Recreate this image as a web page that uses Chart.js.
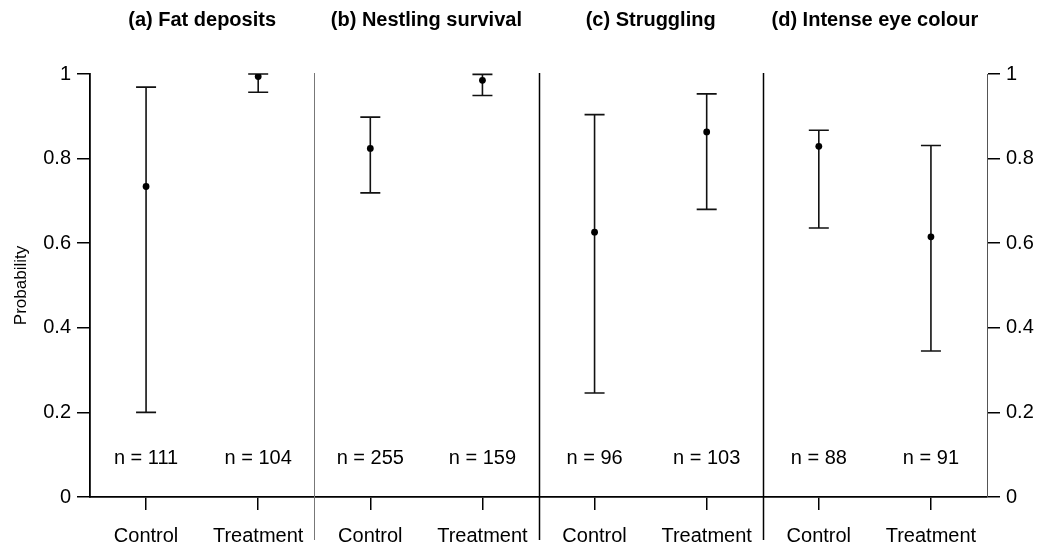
<!DOCTYPE html>
<html>
<head>
<meta charset="utf-8">
<script src="https://cdn.jsdelivr.net/npm/chart.js@4/dist/chart.umd.min.js"></script>
<style>
  html, body { margin: 0; padding: 0; background: #fff; }
  #wrap { width: 1052px; height: 549px; }
</style>
</head>
<body>
<div id="wrap"><canvas id="chart" width="1052" height="549"></canvas></div>
<script>
// four panels, two groups each
const panelTitles = ["(a) Fat deposits", "(b) Nestling survival", "(c) Struggling", "(d) Intense eye colour"];
const groups = ["Control", "Treatment", "Control", "Treatment", "Control", "Treatment", "Control", "Treatment"];
const estimate = [0.734, 0.994, 0.824, 0.985, 0.626, 0.863, 0.829, 0.615];
const lower = [0.200, 0.957, 0.719, 0.949, 0.246, 0.680, 0.636, 0.345];
const upper = [0.969, 1.0, 0.898, 0.999, 0.904, 0.953, 0.867, 0.831];
const sampleSizes = [111, 104, 255, 159, 96, 103, 88, 91];

const FONT = "'Liberation Sans', Arial, Helvetica, sans-serif";

const errorBars = {
    id: "errorBars",
    beforeDatasetsDraw(chart) {
        const { ctx, scales: { x, y } } = chart;
        ctx.save();
        ctx.strokeStyle = "#111";
        ctx.lineWidth = 1.6;
        lower.forEach((lo, i) => {
            const px = x.getPixelForValue(i);
            const yl = y.getPixelForValue(lo);
            const yh = y.getPixelForValue(upper[i]);
            ctx.beginPath();
            ctx.moveTo(px, yl);
            ctx.lineTo(px, yh);
            ctx.moveTo(px - 10, yl);
            ctx.lineTo(px + 10, yl);
            ctx.moveTo(px - 10, yh);
            ctx.lineTo(px + 10, yh);
            ctx.stroke();
        });
        ctx.restore();
    },
    afterDraw(chart) {
        const { ctx, chartArea, scales: { x } } = chart;
        const split = (p) => (x.getPixelForValue(p * 2 - 1) + x.getPixelForValue(p * 2)) / 2;
        ctx.save();

        // panel separators
        for (let p = 1; p < panelTitles.length; p++) {
            const sx = Math.round(split(p)) + 0.5;
            ctx.strokeStyle = p === 1 ? "#777" : "#000";
            ctx.lineWidth = p === 1 ? 1 : 1.5;
            ctx.beginPath();
            ctx.moveTo(sx, chartArea.top - 1);
            ctx.lineTo(sx, 540);
            ctx.stroke();
        }

        // panel titles
        ctx.fillStyle = "#000";
        ctx.textAlign = "center";
        ctx.textBaseline = "middle";
        ctx.font = "bold 20px " + FONT;
        panelTitles.forEach((t, p) => {
            const left = p === 0 ? chartArea.left : split(p);
            const right = p === panelTitles.length - 1 ? chartArea.right : split(p + 1);
            ctx.fillText(t, (left + right) / 2, 20);
        });

        // sample sizes
        ctx.font = "20px " + FONT;
        sampleSizes.forEach((n, i) => {
            ctx.fillText("n = " + n, x.getPixelForValue(i), chartArea.bottom - 39);
        });
        ctx.restore();
    }
};

const tickFont = { family: FONT, size: 20 };

const yAxis = (pos) => ({
    type: "linear",
    position: pos,
    min: 0,
    max: 1,
    ticks: {
        stepSize: 0.2,
        color: "#000",
        font: tickFont,
        padding: 6,
        callback: (v) => String(Math.round(v * 10) / 10)
    },
    grid: { drawOnChartArea: false, drawTicks: true, tickLength: 13, color: "#000", lineWidth: 1.5 },
    border: { display: true, color: pos === "left" ? "#000" : "#555", width: pos === "left" ? 1.8 : 1 }
});

new Chart(document.getElementById("chart"), {
    type: "line",
    data: {
        labels: groups,
        datasets: [{
            data: estimate,
            showLine: false,
            pointRadius: 3.4,
            pointBackgroundColor: "#000",
            pointBorderColor: "#000",
            pointBorderWidth: 0,
            yAxisID: "y"
        }]
    },
    options: {
        responsive: false,
        animation: false,
        layout: { padding: { top: 74, left: 0, right: 0, bottom: 0 } },
        plugins: { legend: { display: false }, tooltip: { enabled: false } },
        scales: {
            x: {
                type: "category",
                offset: true,
                grid: { drawOnChartArea: false, drawTicks: true, tickLength: 13, color: "#000", lineWidth: 1.5 },
                border: { display: true, color: "#000", width: 1.8 },
                ticks: { color: "#000", font: tickFont, padding: 14, maxRotation: 0, autoSkip: false },
                afterFit(s) { s.height = 52; }
            },
            y: Object.assign(yAxis("left"), {
                title: { display: true, text: "Probability", color: "#000", font: { family: FONT, size: 17 }, padding: { top: 11, bottom: 0 } },
                afterFit(s) { s.width = 90; }
            }),
            y2: Object.assign(yAxis("right"), {
                afterFit(s) { s.width = 65; }
            })
        }
    },
    plugins: [errorBars]
});
</script>
</body>
</html>
